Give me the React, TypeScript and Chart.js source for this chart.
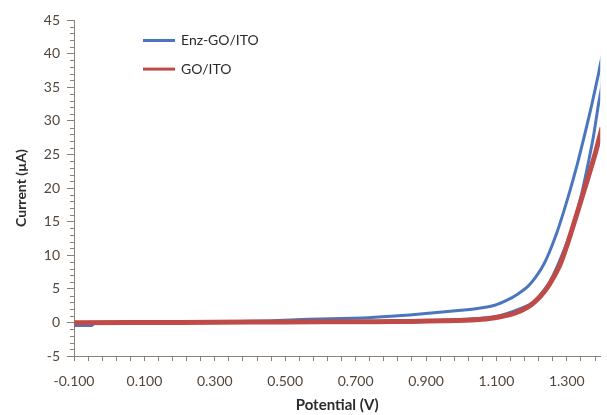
import React, { useEffect, useRef } from "react";
import { Chart, registerables } from "chart.js";

Chart.register(...registerables);

// ---- Data ----
const seriesNames = ["Enz-GO/ITO", "GO/ITO"];

// Enz-GO/ITO, forward scan (upper branch at high potential)
const enzForwardPotential = [-0.1, -0.05, -0.04, 0.1, 0.3, 0.45, 0.53, 0.6, 0.72, 0.8, 0.907, 1.0, 1.05, 1.095, 1.13, 1.16, 1.19, 1.215, 1.235, 1.25, 1.27, 1.29, 1.31, 1.33, 1.35, 1.37, 1.39, 1.4];
const enzForwardCurrent = [-0.45, -0.45, -0.1, -0.05, 0.05, 0.2, 0.4, 0.5, 0.65, 0.9, 1.35, 1.8, 2.1, 2.55, 3.3, 4.2, 5.4, 7.0, 8.7, 10.4, 13.1, 16.3, 19.8, 23.6, 27.8, 32.2, 37.0, 39.5];
// Enz-GO/ITO, reverse scan
const enzReversePotential = [1.4, 1.39, 1.375, 1.36, 1.345, 1.33, 1.3, 1.25, 1.2, 1.1, 1.0, 0.8, 0.5, 0.2, -0.1];
const enzReverseCurrent = [35.5, 32.5, 27.5, 23.5, 19.8, 16.6, 11.8, 5.9, 2.8, 0.9, 0.45, 0.15, 0.1, 0.0, 0.0];

// GO/ITO
const goPotential = [-0.1, 0.2, 0.4, 0.6, 0.75, 0.86, 0.95, 1.04, 1.095, 1.15, 1.19, 1.225, 1.25, 1.28, 1.3, 1.32, 1.34, 1.36, 1.38, 1.4];
const goCurrent = [-0.05, 0.0, 0.05, 0.1, 0.1, 0.15, 0.25, 0.4, 0.7, 1.35, 2.3, 3.9, 5.6, 8.5, 11.4, 14.7, 18.1, 21.5, 25.0, 29.0];

// Axis ticks
const xMajorTicks = [-0.1, 0.1, 0.3, 0.5, 0.7, 0.9, 1.1, 1.3];
const xMinorStep = 0.04;
const xMin = -0.1;
const xMax = 1.395;
const yMin = -5;
const yMax = 45;
const yMajorStep = 5;
const yMinorStep = 1;

// ---- Styles ----
const blue = "#4A76C0";
const red = "#BE4B48";
const tickColor = "#54463a";
const axisColor = "#8c8177";
const fontFamily = "Lato, 'Open Sans', sans-serif";

const toPoints = (xs: number[], ys: number[]) => xs.map((x, i) => ({ x, y: ys[i] }));

const overlayPlugin = {
  id: "overlay",
  afterDraw(chart: any) {
    const { ctx, chartArea } = chart;
    const yScale = chart.scales.y;
    ctx.save();
    // minor y ticks
    ctx.strokeStyle = axisColor;
    ctx.lineWidth = 1;
    for (let v = yMin; v <= yMax; v += yMinorStep) {
      if (v % yMajorStep === 0) continue;
      const py = Math.round(yScale.getPixelForValue(v)) + 0.5;
      ctx.beginPath();
      ctx.moveTo(chartArea.left - 4, py);
      ctx.lineTo(chartArea.left, py);
      ctx.stroke();
    }
    // legend
    const colors = [blue, red];
    ctx.font = `14px ${fontFamily}`;
    ctx.textBaseline = "middle";
    ctx.textAlign = "left";
    seriesNames.forEach((name, i) => {
      const ly = chartArea.top + 20.5 + i * 28.6;
      const lx = chartArea.left + 69;
      ctx.strokeStyle = colors[i];
      ctx.lineWidth = 3;
      ctx.beginPath();
      ctx.moveTo(lx, ly);
      ctx.lineTo(lx + 32, ly);
      ctx.stroke();
      ctx.fillStyle = "#2b2b2b";
      ctx.fillText(name, lx + 38, ly);
    });
    ctx.restore();
  },
};

export default function App() {
  const canvasRef = useRef<HTMLCanvasElement | null>(null);

  useEffect(() => {
    if (!canvasRef.current) return;
    const chart = new Chart(canvasRef.current, {
      type: "scatter",
      data: {
        datasets: [
          {
            label: seriesNames[0],
            data: [
              ...toPoints(enzForwardPotential, enzForwardCurrent),
              ...toPoints(enzReversePotential, enzReverseCurrent),
            ],
            showLine: true,
            borderColor: blue,
            backgroundColor: blue,
            borderWidth: 3,
            pointRadius: 0,
            tension: 0.2,
            order: 1,
            clip: 0,
          } as any,
          {
            label: seriesNames[1],
            data: toPoints(goPotential, goCurrent),
            showLine: true,
            borderColor: red,
            backgroundColor: red,
            borderWidth: 5,
            pointRadius: 0,
            tension: 0.2,
            order: 0,
            clip: 0,
          } as any,
        ],
      },
      options: {
        animation: false,
        responsive: false,
        layout: { padding: { top: 20, right: 0, left: 0, bottom: 0 } },
        plugins: {
          legend: { display: false },
          tooltip: { enabled: false },
        },
        scales: {
          x: {
            type: "linear",
            min: xMin,
            max: xMax,
            afterBuildTicks: (scale: any) => {
              const ticks = [];
              for (let k = 0; xMin + k * xMinorStep <= xMax + 1e-9; k++) {
                ticks.push({ value: +(xMin + k * xMinorStep).toFixed(4) });
              }
              scale.ticks = ticks;
            },
            afterFit: (scale: any) => {
              scale.height = 59;
            },
            ticks: {
              autoSkip: false,
              maxRotation: 0,
              padding: 12,
              color: tickColor,
              font: { family: fontFamily, size: 14 },
              callback: (value: any) => {
                const v = Number(value);
                const major = xMajorTicks.find((m) => Math.abs(m - v) < 1e-6);
                return major === undefined ? "" : major.toFixed(3);
              },
            },
            grid: {
              drawOnChartArea: false,
              drawTicks: true,
              tickLength: 5,
              tickColor: axisColor,
            },
            border: { display: true, color: axisColor, width: 1 },
            title: {
              display: true,
              text: "Potential (V)",
              color: "#2b2b2b",
              font: { family: fontFamily, size: 15, weight: "bold" },
              padding: { top: 0, bottom: 1 },
            },
          },
          y: {
            type: "linear",
            min: yMin,
            max: yMax,
            afterFit: (scale: any) => {
              scale.width = 74;
            },
            ticks: {
              stepSize: yMajorStep,
              padding: 7,
              color: tickColor,
              font: { family: fontFamily, size: 14 },
            },
            grid: {
              drawOnChartArea: false,
              drawTicks: true,
              tickLength: 7,
              tickColor: axisColor,
            },
            border: { display: true, color: axisColor, width: 1 },
            title: {
              display: true,
              text: "Current (µA)",
              color: "#2b2b2b",
              font: { family: fontFamily, size: 14, weight: "bold" },
              padding: { top: 13, bottom: 0 },
            },
          },
        },
      },
      plugins: [overlayPlugin],
    } as any);
    return () => chart.destroy();
  }, []);

  return (
    <div style={{ position: "absolute", left: 0, top: 0, width: 607, height: 415, background: "#fff" }}>
      <canvas ref={canvasRef} width={607} height={415} />
    </div>
  );
}
